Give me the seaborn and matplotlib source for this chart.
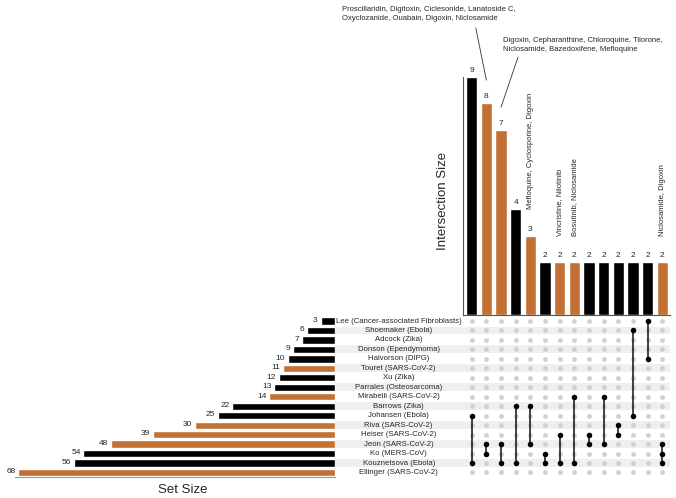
import numpy as np
import pandas as pd
import matplotlib
matplotlib.use('Agg')
import matplotlib.pyplot as plt
import seaborn as sns

# ---- data ----
set_names = ['Lee (Cancer-associated Fibroblasts)', 'Shoemaker (Ebola)', 'Adcock (Zika)',
             'Donson (Ependymoma)', 'Halvorson (DIPG)', 'Touret (SARS-CoV-2)', 'Xu (Zika)',
             'Parrales (Osteosarcoma)', 'Mirabelli (SARS-CoV-2)', 'Barrows (Zika)',
             'Johansen (Ebola)', 'Riva (SARS-CoV-2)', 'Heiser (SARS-CoV-2)', 'Jeon (SARS-CoV-2)',
             'Ko (MERS-CoV)', 'Kouznetsova (Ebola)', 'Ellinger (SARS-CoV-2)']
set_sizes = [3, 6, 7, 9, 10, 11, 12, 13, 14, 22, 25, 30, 39, 48, 54, 56, 68]

intersections = [
    ['Johansen', 'Kouznetsova'],
    ['Jeon', 'Ko'],
    ['Jeon', 'Kouznetsova'],
    ['Barrows', 'Kouznetsova'],
    ['Barrows', 'Jeon'],
    ['Ko', 'Kouznetsova'],
    ['Heiser', 'Kouznetsova'],
    ['Mirabelli', 'Kouznetsova'],
    ['Heiser', 'Jeon'],
    ['Mirabelli', 'Jeon'],
    ['Riva', 'Heiser'],
    ['Shoemaker', 'Johansen'],
    ['Lee', 'Halvorson'],
    ['Jeon', 'Ko', 'Kouznetsova'],
]
inter_sizes = [9, 8, 7, 4, 3, 2, 2, 2, 2, 2, 2, 2, 2, 2]
inter_sars = [False, True, True, False, True, False, True, True, False, False, False, False, False, True]

# drug callouts: column index -> text
callouts_flat = {
    1: 'Proscillaridin, Digitoxin, Ciclesonide, Lanatoside C,\nOxyclozanide, Ouabain, Digoxin, Niclosamide',
    2: 'Digoxin, Cepharanthine, Chloroquine, Tilorone,\nNiclosamide, Bazedoxifene, Mefloquine',
}
callouts_vert = {
    4: 'Mefloquine, Cyclosporine, Digoxin',
    6: 'Vincristine, Nilotinib',
    7: 'Bosutinib, Niclosamide',
    13: 'Niclosamide, Digoxin',
}

ORANGE = '#c37034'
BLACK = '#000000'
palette = {'sars': ORANGE, 'other': BLACK}

sns.set_theme(style='white')
plt.rcParams['font.family'] = ['Liberation Sans', 'DejaVu Sans']

W, H = 676, 498
fig = plt.figure(figsize=(W / 100, H / 100), dpi=100)


def px_axes(x0, y0, x1, y1):
    """add axes from pixel box (top-left origin)"""
    return fig.add_axes([x0 / W, 1 - y1 / H, (x1 - x0) / W, (y1 - y0) / H])


col0, col_step = 471.7, 14.66
row_top, row_bot = 316.3, 477.2

ax_bar = px_axes(463, 76.7, 670, 315)
ax_mat = px_axes(335, row_top, 670, row_bot)
ax_set = px_axes(15, row_top, 334.5, row_bot)

n_cols = len(inter_sizes)
n_rows = len(set_names)
xlim = ((463 - col0) / col_step, (670 - col0) / col_step)

# ---- intersection size bars ----
inter_df = pd.DataFrame({
    'col': np.arange(n_cols),
    'size': inter_sizes,
    'group': ['sars' if s else 'other' for s in inter_sars],
})
sns.barplot(data=inter_df, x='col', y='size', hue='group', palette=palette, dodge=False,
            width=0.77, saturation=1, legend=False, ax=ax_bar)
for cont in ax_bar.containers:
    ax_bar.bar_label(cont, padding=2, fontsize=6, annotation_clip=False)
ax_bar.set_xlim(*xlim)
ax_bar.set_ylim(0, 9)
ax_bar.set_xticks([])
ax_bar.set_yticks([])
ax_bar.set_xlabel('')
ax_bar.set_ylabel('Intersection Size', fontsize=9.5)
ax_bar.yaxis.set_label_coords(-0.068, 0.48)
for side in ['top', 'right']:
    ax_bar.spines[side].set_visible(False)
for side in ['left', 'bottom']:
    ax_bar.spines[side].set_color('#555555')
    ax_bar.spines[side].set_linewidth(0.8)

# horizontal callouts with leader lines
ax_bar.text(-8.87, 11.66, callouts_flat[1], fontsize=5.5, ha='left', va='top',
            linespacing=1.35, clip_on=False)
h = inter_sizes[1]
ax_bar.plot([1 - 0.72, 1], [h + 2.84, h + 0.87], color='#333333', lw=0.6, clip_on=False)
ax_bar.text(2.13, 10.5, callouts_flat[2], fontsize=5.5, ha='left', va='top',
            linespacing=1.35, clip_on=False)
h = inter_sizes[2]
ax_bar.plot([2 + 1.16, 2], [h + 2.74, h + 0.85], color='#333333', lw=0.6, clip_on=False)

for c, txt in callouts_vert.items():
    ax_bar.text(c, inter_sizes[c] + 1.0, txt, fontsize=5.5, rotation=90,
                ha='center', va='bottom', clip_on=False)

# ---- matrix ----
ax_mat.set_xlim(*((335 - col0) / col_step, (670 - col0) / col_step))
ax_mat.set_ylim(n_rows - 0.5, -0.5)
for i in range(1, n_rows, 2):
    ax_mat.axhspan(i - 0.42, i + 0.42, color='#efefef', lw=0, zorder=0)
for i, name in enumerate(set_names):
    ax_mat.text((398.7 - col0) / col_step, i, name, fontsize=5.6, ha='center', va='center')

short = [s.split(' (')[0] for s in set_names]
grid_x, grid_y = np.meshgrid(np.arange(n_cols), np.arange(n_rows))
ax_mat.scatter(grid_x.ravel(), grid_y.ravel(), s=12, color='#d0d0d0', lw=0, zorder=1)
for j, members in enumerate(intersections):
    rows = [short.index(m) for m in members]
    ax_mat.plot([j, j], [min(rows), max(rows)], color='#111111', lw=1.1, zorder=2)
    ax_mat.scatter([j] * len(rows), rows, s=16, color='black', lw=0, zorder=3)
ax_mat.axis('off')

# ---- set size bars ----
set_df = pd.DataFrame({
    'name': set_names,
    'size': set_sizes,
    'group': ['sars' if 'SARS-CoV-2' in s else 'other' for s in set_names],
})
sns.barplot(data=set_df, y='name', x='size', hue='group', palette=palette, dodge=False,
            orient='h', width=0.77, saturation=1, legend=False, ax=ax_set)
# labels to the left of each bar end (x axis is inverted)
for i, v in enumerate(set_sizes):
    ax_set.annotate(str(v), xy=(v, i), xytext=(-2, 0.5), textcoords='offset points',
                    ha='right', va='center', fontsize=6, annotation_clip=False)
ax_set.set_xlim(68.7, 0)
ax_set.set_ylim(n_rows - 0.5, -0.5)
ax_set.set_xticks([])
ax_set.set_yticks([])
ax_set.set_ylabel('')
ax_set.set_xlabel('Set Size', fontsize=9.5)
ax_set.xaxis.set_label_coords(0.526, -0.045)
for side in ['top', 'right', 'left']:
    ax_set.spines[side].set_visible(False)
ax_set.spines['bottom'].set_color('#999999')
ax_set.spines['bottom'].set_linewidth(0.8)

fig.savefig('out.png', dpi=100)
